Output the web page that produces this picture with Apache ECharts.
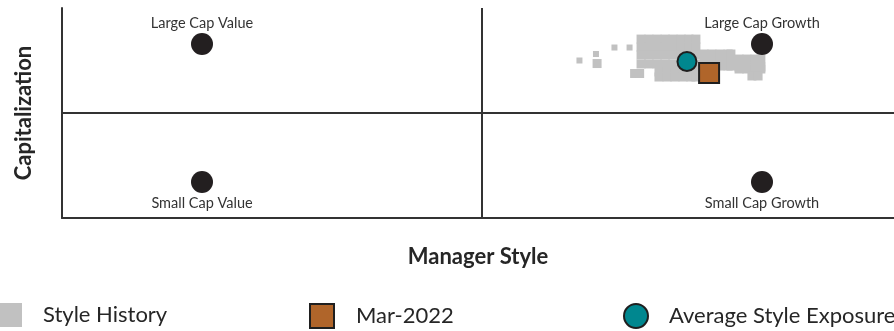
<!DOCTYPE html>
<html>
<head>
<meta charset="utf-8">
<script src="https://cdn.jsdelivr.net/npm/echarts@6/dist/echarts.min.js"></script>
<style>
  html, body { margin: 0; padding: 0; background: #ffffff; }
  #chart { width: 894px; height: 331px; }
</style>
</head>
<body>
<div id="chart"></div>
<script>
// ---- Data (style score units: Value/Growth on x, Small/Large on y) ----
const styleNames = ['Large Cap Value', 'Large Cap Growth', 'Small Cap Value', 'Small Cap Growth'];
const styleX = [-100, 100, -100, 100];
const styleY = [100, 100, -100, -100];

const historyMain = [
  [56.8,107.0],[59.6,107.0],[62.5,107.0],[65.4,107.0],[68.2,107.0],[71.1,107.0],[73.9,107.0],[76.4,107.0],
  [56.8,95.5],[59.6,95.5],[62.5,95.5],[65.4,95.5],[68.2,95.5],[71.1,95.5],[73.9,95.5],[76.4,95.5],
  [56.8,84.0],[59.6,84.0],[62.5,84.0],[65.4,84.0],[68.2,84.0],[71.1,84.0],[73.9,84.0],[76.4,84.0],
  [56.8,71.0],[59.6,71.0],[62.5,71.0],[65.4,71.0],[68.2,71.0],[71.1,71.0],[73.9,71.0],[76.4,71.0],
  [63.2,59.4],[66.1,59.4],[68.9,59.4],[71.8,59.4],[74.6,59.4],[76.4,59.4],
  [63.2,52.1],[66.1,52.1],[68.9,52.1],[71.8,52.1],[74.6,52.1],[76.4,52.1],
  [79.3,85.4],[82.1,85.4],[85.0,85.4],[87.9,85.4],[88.9,85.4],
  [79.3,73.8],[82.1,73.8],[85.0,73.8],[87.9,73.8],[88.9,73.8],
  [79.3,68.0],[82.1,68.0],[85.0,68.0],[87.9,68.0],[88.9,68.0],
  [91.8,78.1],[94.6,78.1],[97.5,78.1],[99.6,78.1],
  [91.8,66.6],[94.6,66.6],[97.5,66.6],[99.6,66.6],
  [91.8,63.7],[94.6,63.7],[97.5,63.7],[99.6,63.7],
  [96.4,53.6],[98.6,53.6],
  [54.5,57.2],[56.3,57.2],
  [41.1,71.6]
];
const historySparse = [
  [34.8,76.0],[40.7,85.4],[47.3,94.8],[52.7,94.8]
];
const averageExposure = [73.2, 74.6];
const currentPoint = [81.1, 57.9];
const currentLabel = 'Mar-2022';

// ---- Chart ----
const chart = echarts.init(document.getElementById('chart'), null, { renderer: 'canvas' });
const FONT = 'Lato';
const LINE = '#333333';

const styleData = styleNames.map((n, i) => ({
  name: n,
  value: [styleX[i], styleY[i]],
  label: styleY[i] > 0 ? { position: 'top', distance: 2 } : { position: 'bottom', distance: 3 }
}));

const option = {
  animation: false,
  backgroundColor: '#ffffff',
  grid: { left: 62, top: 8, right: 0, height: 210, containLabel: false },
  xAxis: {
    type: 'value', min: -150, max: 147.14,
    name: 'Manager Style', nameLocation: 'middle', nameGap: 28,
    nameTextStyle: { fontFamily: FONT, fontWeight: 'bold', fontSize: 22, color: '#262626' },
    axisLine: { show: true, onZero: false, lineStyle: { color: LINE, width: 2 } },
    axisTick: { show: false }, axisLabel: { show: false }, splitLine: { show: false }
  },
  yAxis: {
    type: 'value', min: -152, max: 152,
    name: 'Capitalization', nameLocation: 'middle', nameGap: 27, nameRotate: 90,
    nameTextStyle: { fontFamily: FONT, fontWeight: 'bold', fontSize: 22, color: '#262626' },
    axisLine: { show: true, onZero: false, lineStyle: { color: LINE, width: 2 } },
    axisTick: { show: false }, axisLabel: { show: false }, splitLine: { show: false }
  },
  legend: [
    { left: 0, top: 303, padding: 0, itemWidth: 22, itemHeight: 24, selectedMode: false,
      data: [{ name: 'Style History', icon: 'rect' }],
      textStyle: { fontFamily: FONT, fontSize: 22, color: '#262626', padding: [0, 0, 0, 16] } },
    { left: 309, top: 303, padding: 0, itemWidth: 24, itemHeight: 24, selectedMode: false,
      data: [{ name: currentLabel, icon: 'rect' }],
      textStyle: { fontFamily: FONT, fontSize: 22, color: '#262626', padding: [0, 0, 0, 17] } },
    { left: 623, top: 303, padding: 0, itemWidth: 24, itemHeight: 24, selectedMode: false,
      data: [{ name: 'Average Style Exposure', icon: 'circle' }],
      textStyle: { fontFamily: FONT, fontSize: 22, color: '#262626', padding: [0, 0, 0, 16] } }
  ],
  series: [
    {
      name: 'Style History', type: 'scatter', symbol: 'rect', symbolSize: 9, z: 1,
      itemStyle: { color: '#c1c1c1', opacity: 1 },
      data: historyMain, silent: true
    },
    {
      name: 'Style History', type: 'scatter', symbol: 'rect', symbolSize: 6, z: 1,
      itemStyle: { color: '#c1c1c1', opacity: 1 },
      data: historySparse, silent: true
    },
    {
      name: 'Styles', type: 'scatter', symbol: 'circle', symbolSize: 22, z: 2,
      itemStyle: { color: '#231f20', opacity: 1 },
      label: { show: true, formatter: '{b}', fontFamily: FONT, fontSize: 14.5, color: '#333333' },
      data: styleData, silent: true,
      markLine: {
        silent: true, symbol: ['none', 'none'], animation: false,
        label: { show: false },
        lineStyle: { color: LINE, width: 2, type: 'solid' },
        emphasis: { disabled: true },
        data: [{ xAxis: 0 }, { yAxis: 0 }]
      }
    },
    {
      name: 'Average Style Exposure', type: 'scatter', symbol: 'circle', symbolSize: 19, z: 3,
      itemStyle: { color: '#00878f', borderColor: '#1f1f1f', borderWidth: 2, opacity: 1 },
      data: [averageExposure], silent: true
    },
    {
      name: currentLabel, type: 'scatter', symbol: 'rect', symbolSize: 20, z: 4,
      itemStyle: { color: '#b0652a', borderColor: '#1f1f1f', borderWidth: 2, opacity: 1 },
      data: [currentPoint], silent: true
    }
  ]
};
chart.setOption(option);
</script>
</body>
</html>
